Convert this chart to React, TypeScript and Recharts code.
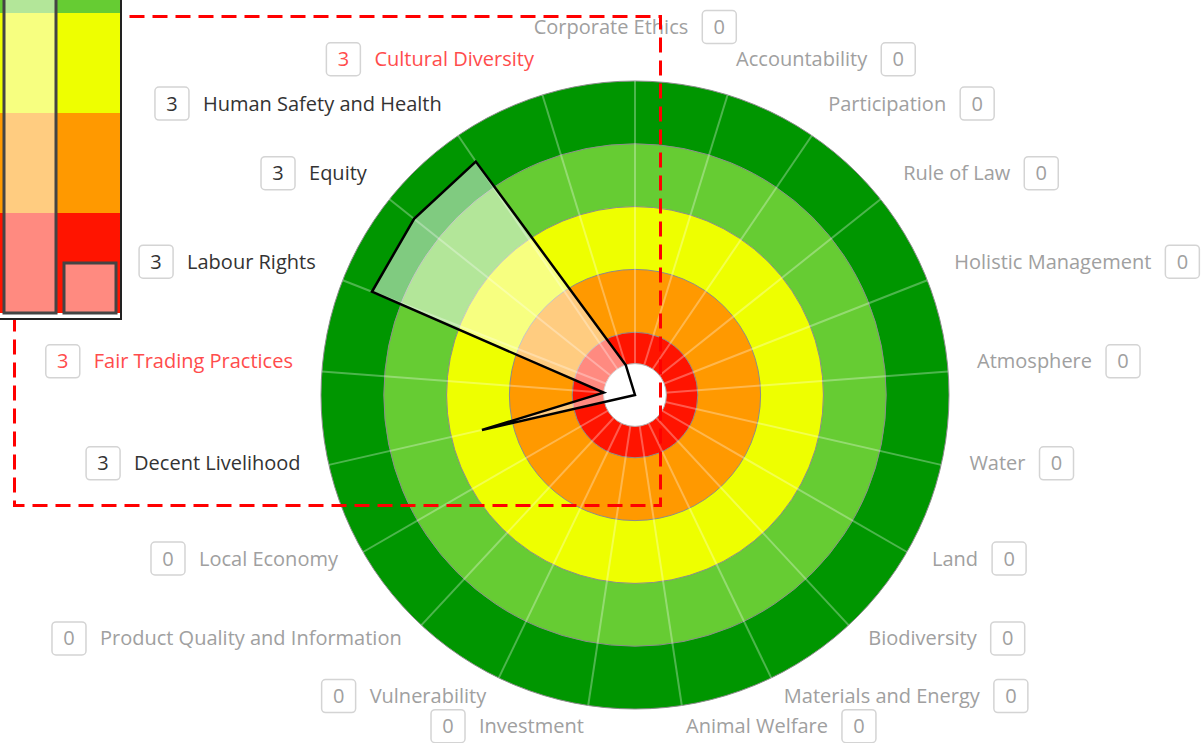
import React from 'react';
import {
  RadarChart,
  Radar,
  PolarAngleAxis,
  PolarRadiusAxis,
  BarChart,
  Bar,
  XAxis,
  YAxis,
  ReferenceArea,
} from 'recharts';

// ---------- data ----------
const themes = [
  'Corporate Ethics',
  'Accountability',
  'Participation',
  'Rule of Law',
  'Holistic Management',
  'Atmosphere',
  'Water',
  'Land',
  'Biodiversity',
  'Materials and Energy',
  'Animal Welfare',
  'Investment',
  'Vulnerability',
  'Product Quality and Information',
  'Local Economy',
  'Decent Livelihood',
  'Fair Trading Practices',
  'Labour Rights',
  'Equity',
  'Human Safety and Health',
  'Cultural Diversity',
];
const scores = [0, 0, 0, 0, 0, 0, 0, 0, 0, 0, 0, 0, 0, 0, 0, 2.5, 0.5, 4.5, 4.5, 4.5, 0.5];
const indicatorCounts = [0, 0, 0, 0, 0, 0, 0, 0, 0, 0, 0, 0, 0, 0, 0, 3, 3, 3, 3, 3, 3];

// rating bands (outer to inner)
const bandLevels = [5, 4, 3, 2, 1];
const bandColors = ['#009600', '#66cc33', '#eeff00', '#ff9900', '#ff1400'];
const holeLevel = 0.5;

// summary bars (top-left, partly off screen)
const summaryCategories = ['Dimension', 'Theme'];
const summaryValues = [4.5, 0.5];

// ---------- layout ----------
const W = 1202;
const H = 743;
const CX = 635;
const CY = 395;
const OUTER = 314;
const LABEL_GAP = 29;
const LABEL_LIFT = 8;
const TOP_EXTRA = 17;
const FONT = "'Open Sans', 'Noto Sans', sans-serif";
const FONT_SIZE = 20;
const GREY = '#a0a0a0';
const DARK = '#333333';
const RED = '#ff4c4c';

const rows = themes.map((name, i) => {
  const row: any = { name, score: scores[i], count: indicatorCounts[i], spoke: bandLevels[0], hole: holeLevel };
  bandLevels.forEach((lv, k) => {
    row['band' + k] = lv;
  });
  return row;
});

const summaryRows = summaryCategories.map((c, i) => ({ name: c, value: summaryValues[i] }));

let measureCtx: any = null;
function measure(text: string) {
  if (!measureCtx) {
    measureCtx = document.createElement('canvas').getContext('2d');
  }
  measureCtx.font = `${FONT_SIZE}px ${FONT}`;
  return measureCtx.measureText(text).width;
}

function centerOf(points: any[]) {
  const p = points[0];
  if (typeof p.cx === 'number' && typeof p.cy === 'number') return { cx: p.cx, cy: p.cy };
  let sx = 0;
  let sy = 0;
  points.forEach((q) => {
    sx += q.x;
    sy += q.y;
  });
  return { cx: sx / points.length, cy: sy / points.length };
}

const ringShape = (color: string, stroke: string) => (props: any) => {
  const pts = props.points || [];
  if (!pts.length) return <g />;
  const { cx, cy } = centerOf(pts);
  const r = Math.hypot(pts[0].x - cx, pts[0].y - cy);
  return <circle cx={cx} cy={cy} r={r} fill={color} stroke={stroke} strokeWidth={1} />;
};

const spokeShape = (props: any) => {
  const pts = props.points || [];
  if (!pts.length) return <g />;
  const { cx, cy } = centerOf(pts);
  return (
    <g>
      {pts.map((p: any, i: number) => (
        <line key={i} x1={cx} y1={cy} x2={p.x} y2={p.y} stroke="#ffffff" strokeOpacity={0.3} strokeWidth={2} />
      ))}
    </g>
  );
};

function ThemeTick(props: any) {
  const { payload } = props;
  const name = payload.value;
  const i = themes.indexOf(name);
  const score = scores[i];
  const count = indicatorCounts[i];
  const color = score === 0 ? GREY : score <= 1 ? RED : DARK;
  const ccx = typeof props.cx === 'number' ? props.cx : CX;
  const ccy = typeof props.cy === 'number' ? props.cy : CY;
  const rad = (payload.coordinate * Math.PI) / 180;
  const R = OUTER + LABEL_GAP;
  const ax = ccx + R * Math.cos(rad);
  let ay = ccy - R * Math.sin(rad) - LABEL_LIFT;
  const tw = measure(name);
  const gap = 14;
  const bw = 34;
  const bh = 33;
  const c = Math.cos(rad);
  let textX: number;
  let boxX: number;
  if (Math.abs(c) < 0.02) {
    const total = tw + gap + bw;
    textX = ax - total / 2;
    boxX = textX + tw + gap;
    ay -= TOP_EXTRA;
  } else if (c > 0) {
    textX = ax;
    boxX = ax + tw + gap;
  } else {
    textX = ax - tw;
    boxX = textX - gap - bw;
  }
  return (
    <g>
      <text x={textX} y={ay} dy="0.35em" textAnchor="start" fill={color} fontSize={FONT_SIZE} fontFamily={FONT}>
        {name}
      </text>
      <rect x={boxX} y={ay - bh / 2} width={bw} height={bh} rx={4} ry={4} fill="#ffffff" stroke="#d4d4d4" strokeWidth={1.5} />
      <text x={boxX + bw / 2} y={ay} dy="0.35em" textAnchor="middle" fill={color} fontSize={FONT_SIZE} fontFamily={FONT}>
        {count}
      </text>
    </g>
  );
}

export default function App() {
  return (
    <div
      style={{
        position: 'absolute',
        left: 0,
        top: 0,
        width: W,
        height: H,
        overflow: 'hidden',
        background: '#ffffff',
        fontFamily: FONT,
      }}
    >
      <div style={{ position: 'absolute', left: 0, top: 0 }}>
        <RadarChart
          width={W}
          height={H}
          cx={CX}
          cy={CY}
          outerRadius={OUTER}
          innerRadius={0}
          startAngle={90}
          endAngle={-270}
          data={rows}
          margin={{ top: 0, right: 0, bottom: 0, left: 0 }}
        >
          <PolarRadiusAxis domain={[0, bandLevels[0]]} tick={false} axisLine={false} />
          {bandLevels.map((lv, k) => (
            <Radar
              key={'band' + k}
              dataKey={'band' + k}
              isAnimationActive={false}
              shape={ringShape(bandColors[k], '#8c8c8c')}
              legendType="none"
            />
          ))}
          <Radar dataKey="spoke" isAnimationActive={false} shape={spokeShape} legendType="none" />
          <Radar dataKey="hole" isAnimationActive={false} shape={ringShape('#ffffff', '#b0b0b0')} legendType="none" />
          <Radar
            dataKey="score"
            isAnimationActive={false}
            stroke="#000000"
            strokeWidth={2.5}
            fill="#ffffff"
            fillOpacity={0.5}
            dot={false}
          />
          <PolarAngleAxis dataKey="name" axisLine={false} tickLine={false} tick={(p: any) => <ThemeTick {...p} />} />
        </RadarChart>
      </div>

      <svg width={W} height={H} style={{ position: 'absolute', left: 0, top: 0, pointerEvents: 'none' }}>
        <rect x={14.5} y={16.5} width={646} height={489} fill="none" stroke="#ff0000" strokeWidth={3} strokeDasharray="15 8" />
      </svg>

      <div
        style={{
          position: 'absolute',
          left: 0,
          top: -187,
          width: 120,
          height: 505,
          borderRight: '2px solid #222',
          borderBottom: '2px solid #222',
          background: '#ffffff',
        }}
      >
        <BarChart width={120} height={505} data={summaryRows} margin={{ top: 0, right: 0, bottom: 5, left: 0 }}>
          <XAxis dataKey="name" hide />
          <YAxis hide domain={[0, bandLevels[0]]} />
          {bandLevels.map((lv, k) => (
            <ReferenceArea key={k} y1={lv - 1} y2={lv} fill={bandColors[k]} fillOpacity={1} stroke="none" />
          ))}
          <Bar dataKey="value" barSize={52} fill="#ffffff" fillOpacity={0.5} stroke="#444444" strokeWidth={3} isAnimationActive={false} />
        </BarChart>
      </div>
    </div>
  );
}
